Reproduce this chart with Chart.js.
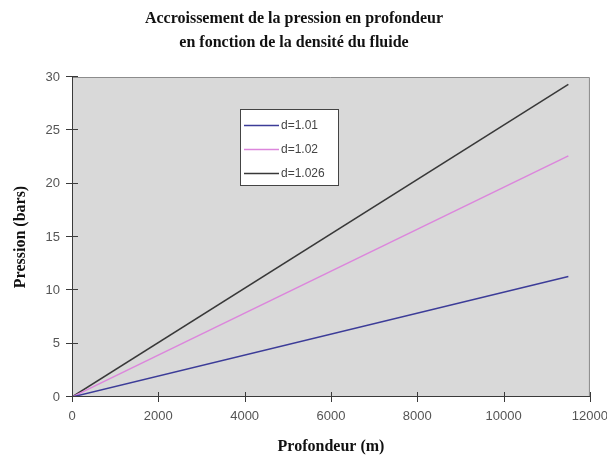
<!DOCTYPE html>
<html>
<head>
<meta charset="utf-8">
<script src="https://cdn.jsdelivr.net/npm/chart.js@4.4.1/dist/chart.umd.min.js"></script>
<style>
  html, body { margin: 0; padding: 0; background: #fff; overflow: hidden; width: 607px; height: 457px; }
  #wrap { width: 620px; height: 457px; }
</style>
</head>
<body>
<div id="wrap"><canvas id="c" width="620" height="457"></canvas></div>
<script>
// Chart text
const titleLines = ['Accroissement de la pression en profondeur', 'en fonction de la densité du fluide'];
const xTitle = 'Profondeur (m)';
const yTitle = 'Pression (bars)';

// Series: depth (m) and pressure (bars) for each fluid density
const depths = [0, 11500];
const pressD1010 = [0, 11.3];
const pressD1020 = [0, 22.6];
const pressD1026 = [0, 29.3];
const seriesLabels = ['d=1.01', 'd=1.02', 'd=1.026'];

// Axis ticks
const xTicks = [0, 2000, 4000, 6000, 8000, 10000, 12000];
const yTicks = [0, 5, 10, 15, 20, 25, 30];

const seriesColors = ['#3c3c98', '#dc86dc', '#383838'];
const sansFont = '"Liberation Sans", Arial, sans-serif';
const serifFont = '"Liberation Serif", "Times New Roman", serif';

const toPoints = (vals) => depths.map((d, i) => ({ x: d, y: vals[i] }));

// Grey plot area with thin frame, axes with cross ticks, legend and two-line title
const plotFrame = {
  id: 'plotFrame',
  beforeDatasetsDraw(chart) {
    const { ctx, chartArea: a } = chart;
    ctx.save();
    ctx.fillStyle = '#d9d9d9';
    ctx.fillRect(a.left, a.top, a.right - a.left, a.bottom - a.top);
    ctx.strokeStyle = '#8c8c8c';
    ctx.lineWidth = 1;
    ctx.beginPath();
    ctx.moveTo(a.left, a.top + 0.5);
    ctx.lineTo(a.right - 0.5, a.top + 0.5);
    ctx.lineTo(a.right - 0.5, a.bottom);
    ctx.stroke();
    ctx.restore();
  },
  afterDatasetsDraw(chart) {
    const { ctx, chartArea: a, scales: { x, y } } = chart;
    ctx.save();
    ctx.strokeStyle = '#3a3a3a';
    ctx.lineWidth = 1;
    ctx.beginPath();
    ctx.moveTo(a.left + 0.5, a.top);
    ctx.lineTo(a.left + 0.5, a.bottom);
    ctx.moveTo(a.left, a.bottom - 0.5);
    ctx.lineTo(a.right, a.bottom - 0.5);
    y.ticks.forEach((t, i) => {
      const py = Math.round(y.getPixelForTick(i)) - 0.5;
      ctx.moveTo(a.left - 6, py);
      ctx.lineTo(a.left + 6, py);
    });
    x.ticks.forEach((t, i) => {
      const px = Math.round(x.getPixelForTick(i)) + 0.5;
      ctx.moveTo(px, a.bottom - 5);
      ctx.lineTo(px, a.bottom + 5);
    });
    ctx.stroke();

    // legend box
    const bx = 240, by = 109, bw = 98, bh = 76;
    ctx.fillStyle = '#ffffff';
    ctx.fillRect(bx, by, bw, bh);
    ctx.strokeStyle = '#444';
    ctx.strokeRect(bx + 0.5, by + 0.5, bw, bh);
    const rows = [125, 149, 173];
    ctx.font = '12px ' + sansFont;
    ctx.textBaseline = 'middle';
    ctx.textAlign = 'left';
    chart.data.datasets.forEach((ds, i) => {
      ctx.strokeStyle = ds.borderColor;
      ctx.lineWidth = 1.5;
      ctx.beginPath();
      ctx.moveTo(244, rows[i] + 0.5);
      ctx.lineTo(279, rows[i] + 0.5);
      ctx.stroke();
      ctx.fillStyle = '#444';
      ctx.fillText(ds.label, 281, rows[i] + 1);
    });
    ctx.restore();
  },
  afterDraw(chart) {
    const { ctx } = chart;
    ctx.save();
    ctx.fillStyle = '#111';
    ctx.font = 'bold 16px ' + serifFont;
    ctx.textAlign = 'center';
    ctx.textBaseline = 'middle';
    ctx.fillText(titleLines[0], 294, 19);
    ctx.fillText(titleLines[1], 294, 43);
    ctx.restore();
  }
};

new Chart(document.getElementById('c'), {
  type: 'line',
  data: {
    datasets: [pressD1010, pressD1020, pressD1026].map((vals, i) => ({
      label: seriesLabels[i],
      data: toPoints(vals),
      borderColor: seriesColors[i],
      backgroundColor: seriesColors[i],
      borderWidth: 1.5,
      pointRadius: 0,
      fill: false,
      tension: 0
    }))
  },
  options: {
    responsive: false,
    animation: false,
    devicePixelRatio: 1,
    layout: { padding: { top: 77, right: 29, left: 0, bottom: 0 } },
    plugins: { legend: { display: false }, tooltip: { enabled: false }, title: { display: false } },
    scales: {
      x: {
        type: 'linear',
        min: 0, max: 12000,
        afterBuildTicks: (s) => { s.ticks = xTicks.map(v => ({ value: v })); },
        afterFit: (s) => { s.height = 60; },
        grid: { display: false, drawTicks: false },
        border: { display: false },
        ticks: { font: { family: sansFont, size: 13 }, color: '#555', padding: 12, maxRotation: 0, autoSkip: false, callback: (v) => String(v) },
        title: { display: true, text: xTitle, color: '#111', font: { family: serifFont, size: 16, weight: 'bold' }, padding: { top: 0, bottom: 1 } }
      },
      y: {
        min: 0, max: 30,
        afterBuildTicks: (s) => { s.ticks = yTicks.map(v => ({ value: v })); },
        afterFit: (s) => { s.width = 72; },
        grid: { display: false, drawTicks: false },
        border: { display: false },
        ticks: { font: { family: sansFont, size: 13 }, color: '#555', padding: 12, autoSkip: false, callback: (v) => String(v) },
        title: { display: true, text: yTitle, color: '#111', font: { family: serifFont, size: 16, weight: 'bold' }, padding: { top: 11, bottom: 0 } }
      }
    }
  },
  plugins: [plotFrame]
});
</script>
</body>
</html>
